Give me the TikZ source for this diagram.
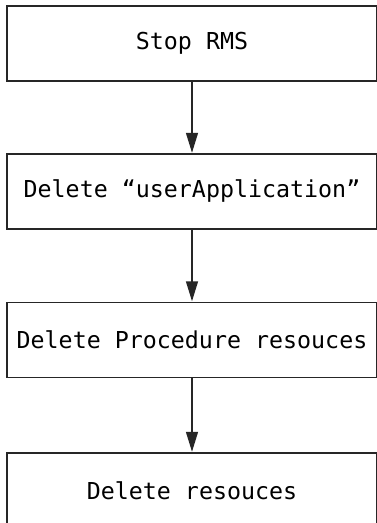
\documentclass[tikz,border=0pt]{standalone}
\usepackage{fontspec}
\setmonofont{DejaVu Sans Mono}
\usetikzlibrary{arrows.meta}
\begin{document}
\begin{tikzpicture}[x=1pt,y=-1pt,
  stepbox/.style={draw=black!85, line width=1.5pt, minimum width=370pt, minimum height=75pt, inner sep=0pt, font=\ttfamily\fontsize{23.3}{26}\selectfont, anchor=center},
  flow/.style={draw=black!85, line width=1.5pt, -{Triangle[length=20pt,width=12pt]}, shorten >=0.5pt}]
\useasboundingbox (0,0) rectangle (376,523);
\fill[white] (0,0) rectangle (376,523);
\node[stepbox] (s1) at (192,43.5) {Stop RMS};
\node[stepbox] (s2) at (192,191.5) {Delete “userApplication”};
\node[stepbox] (s3) at (192,340) {Delete Procedure resouces};
\node[stepbox] (s4) at (192,490.5) {Delete resouces};
\draw[flow] (s1) -- (s2);
\draw[flow] (s2) -- (s3);
\draw[flow] (s3) -- (s4);
\end{tikzpicture}
\end{document}
